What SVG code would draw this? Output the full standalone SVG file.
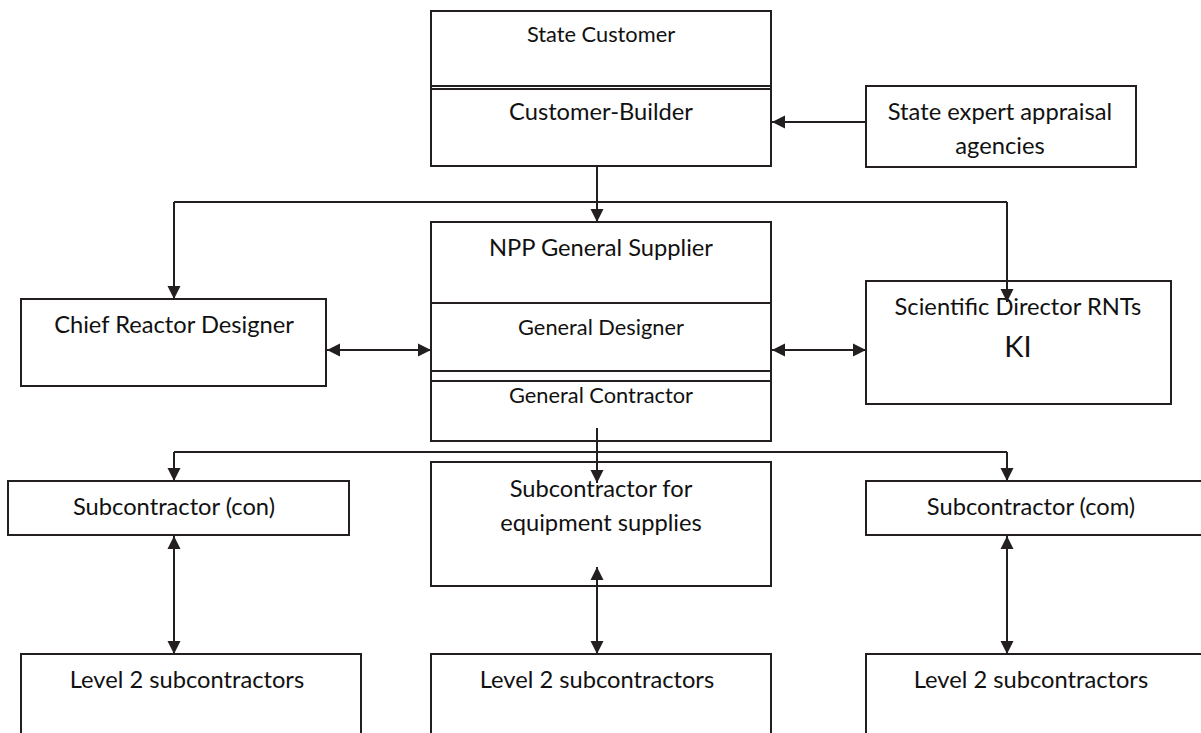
<svg xmlns="http://www.w3.org/2000/svg" width="1201" height="733" viewBox="0 0 1201 733">
<style>
.box{fill:#fff;stroke:#231f20;stroke-width:2}
.sep{stroke:#231f20;stroke-width:2;fill:none}
.t{font-family:Lato,"Liberation Sans",sans-serif;font-size:23.7px;fill:#111;text-anchor:middle}
.s{font-size:21.8px}
.c{stroke:#231f20;stroke-width:2;fill:none}
</style>
<defs>
<marker id="ah" markerUnits="userSpaceOnUse" markerWidth="14" markerHeight="14" viewBox="0 0 14 14" refX="13" refY="7" orient="auto-start-reverse">
<path d="M0,0.5 L13,7 L0,13.5 Z" fill="#231f20"/>
</marker>
</defs>
<rect width="1201" height="733" fill="#fff"/>
<g id="state-customer">
<rect class="box" x="431" y="11" width="340" height="155"/>
<line class="sep" x1="431" y1="86" x2="771" y2="86"/>
<line class="sep" x1="431" y1="89" x2="771" y2="89"/>
<text class="t s" x="601" y="42">State Customer</text>
<text class="t" x="601" y="120">Customer-Builder</text>
</g>
<g id="state-expert">
<rect class="box" x="866" y="86" width="270" height="81"/>
<text class="t" x="1000" y="120">State expert appraisal</text>
<text class="t" x="1000" y="154">agencies</text>
</g>
<g id="npp">
<rect class="box" x="431" y="222" width="340" height="219"/>
<line class="sep" x1="431" y1="303" x2="771" y2="303"/>
<line class="sep" x1="431" y1="371" x2="771" y2="371"/>
<line class="sep" x1="431" y1="381" x2="771" y2="381"/>
<text class="t" x="601" y="256">NPP General Supplier</text>
<text class="t s" x="601" y="335">General Designer</text>
<text class="t s" x="601" y="403">General Contractor</text>
</g>
<g id="chief">
<rect class="box" x="21" y="299" width="305" height="87"/>
<text class="t" x="174" y="333">Chief Reactor Designer</text>
</g>
<g id="scientific">
<rect class="box" x="866" y="281" width="305" height="123"/>
<text class="t" x="1018" y="315">Scientific Director RNTs</text>
<text class="t" x="1018" y="357" style="font-size:29px">KI</text>
</g>
<g id="sub-con">
<rect class="box" x="8" y="481" width="341" height="54"/>
<text class="t" x="174" y="515">Subcontractor (con)</text>
</g>
<g id="sub-equip">
<rect class="box" x="431" y="462" width="340" height="124"/>
<text class="t" x="601" y="497">Subcontractor for</text>
<text class="t" x="601" y="531">equipment supplies</text>
</g>
<g id="sub-com">
<rect class="box" x="866" y="481" width="345" height="54"/>
<text class="t" x="1031" y="515">Subcontractor (com)</text>
</g>
<g id="level2-left">
<rect class="box" x="21" y="654" width="340" height="90"/>
<text class="t" x="187" y="688">Level 2 subcontractors</text>
</g>
<g id="level2-mid">
<rect class="box" x="431" y="654" width="340" height="90"/>
<text class="t" x="597" y="688">Level 2 subcontractors</text>
</g>
<g id="level2-right">
<rect class="box" x="866" y="654" width="345" height="90"/>
<text class="t" x="1031" y="688">Level 2 subcontractors</text>
</g>
<g id="connectors">
<line class="c" x1="597" y1="166" x2="597" y2="222" marker-end="url(#ah)"/>
<polyline class="c" points="174,202 1007,202"/>
<line class="c" x1="174" y1="202" x2="174" y2="299" marker-end="url(#ah)"/>
<line class="c" x1="1007" y1="202" x2="1007" y2="302" marker-end="url(#ah)"/>
<line class="c" x1="866" y1="122" x2="772" y2="122" marker-end="url(#ah)"/>
<line class="c" x1="327" y1="350" x2="431" y2="350" marker-start="url(#ah)" marker-end="url(#ah)"/>
<line class="c" x1="772" y1="350" x2="866" y2="350" marker-start="url(#ah)" marker-end="url(#ah)"/>
<line class="c" x1="597" y1="428" x2="597" y2="483" marker-end="url(#ah)"/>
<polyline class="c" points="174,452 1007,452"/>
<line class="c" x1="174" y1="452" x2="174" y2="481" marker-end="url(#ah)"/>
<line class="c" x1="1007" y1="452" x2="1007" y2="481" marker-end="url(#ah)"/>
<line class="c" x1="174" y1="536" x2="174" y2="654" marker-start="url(#ah)" marker-end="url(#ah)"/>
<line class="c" x1="597" y1="567" x2="597" y2="654" marker-start="url(#ah)" marker-end="url(#ah)"/>
<line class="c" x1="1007" y1="536" x2="1007" y2="654" marker-start="url(#ah)" marker-end="url(#ah)"/>
</g>
</svg>
